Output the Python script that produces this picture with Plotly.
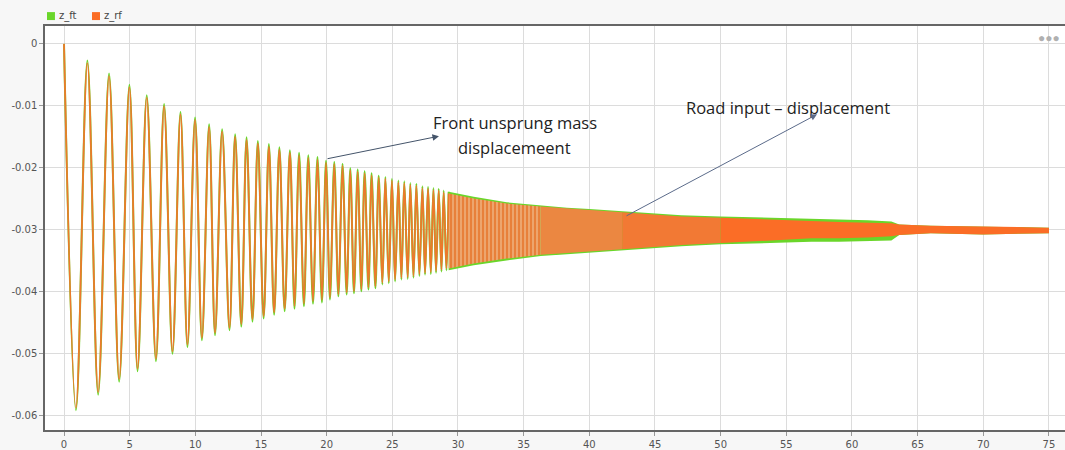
import plotly.graph_objects as go

# ---- data ----
# extrema (peaks / troughs) of the resolvable oscillation, t in s
ext_t = [0, 0.91, 1.78, 2.6, 3.43, 4.2, 4.98, 5.6, 6.3, 7.0,
         7.62, 8.26, 8.87, 9.4, 9.98, 10.5, 11.05, 11.5, 12.04, 12.6,
         13.03, 13.5, 13.9, 14.35, 14.76, 15.2, 15.6, 16.0, 16.4, 16.8,
         17.2, 17.55, 17.9, 18.27, 18.6, 18.96, 19.3, 19.64, 19.95, 20.25,
         20.58, 20.89, 21.21, 21.52, 21.8, 22.08, 22.36, 22.64, 22.89, 23.18,
         23.42, 23.71, 23.96, 24.24, 24.47, 24.73, 24.97, 25.21, 25.46, 25.69,
         25.91, 26.17, 26.37, 26.61, 26.83, 27.06, 27.29, 27.49, 27.72, 27.93,
         28.13, 28.33, 28.53, 28.74, 28.91, 29.12, 29.29]
z_ft_ext = [0, -0.0592, -0.0027, -0.0567, -0.0048, -0.0546, -0.0066, -0.0529, -0.0083, -0.0513,
            -0.0097, -0.0501, -0.0110, -0.0490, -0.0119, -0.0479, -0.0130, -0.0471, -0.0138, -0.0463,
            -0.0146, -0.0457, -0.0151, -0.0449, -0.0157, -0.0444, -0.0162, -0.0438, -0.0167, -0.0432,
            -0.0172, -0.0428, -0.0176, -0.0424, -0.0180, -0.0420, -0.0183, -0.0418, -0.0189, -0.0413,
            -0.0191, -0.0408, -0.0194, -0.0405, -0.0201, -0.0403, -0.0203, -0.0400, -0.0206, -0.0397,
            -0.0209, -0.0395, -0.0213, -0.0389, -0.0215, -0.0387, -0.0218, -0.0384, -0.0221, -0.0381,
            -0.0222, -0.0380, -0.0225, -0.0378, -0.0226, -0.0375, -0.0230, -0.0373, -0.0231, -0.0372,
            -0.0233, -0.0370, -0.0234, -0.0368, -0.0237, -0.0366, -0.0239]
z_rf_ext = [0, -0.0588, -0.0031, -0.0563, -0.0052, -0.0542, -0.0070, -0.0525, -0.0087, -0.0509,
            -0.0101, -0.0497, -0.0114, -0.0486, -0.0123, -0.0475, -0.0134, -0.0467, -0.0142, -0.0459,
            -0.0150, -0.0453, -0.0155, -0.0445, -0.0161, -0.0440, -0.0166, -0.0434, -0.0171, -0.0428,
            -0.0176, -0.0424, -0.0180, -0.0420, -0.0184, -0.0416, -0.0187, -0.0414, -0.0192, -0.0410,
            -0.0194, -0.0405, -0.0197, -0.0402, -0.0204, -0.0400, -0.0206, -0.0397, -0.0209, -0.0394,
            -0.0212, -0.0392, -0.0216, -0.0386, -0.0218, -0.0384, -0.0221, -0.0381, -0.0224, -0.0378,
            -0.0225, -0.0377, -0.0228, -0.0375, -0.0229, -0.0372, -0.0233, -0.0370, -0.0234, -0.0369,
            -0.0236, -0.0367, -0.0237, -0.0365, -0.0240, -0.0363, -0.0242]

# envelope of the dense (unresolvable) part of the oscillation
band_t = [29.29, 31.2, 33.7, 36.3, 38.3, 40.0, 42.5, 45.0, 47.0, 50.0,
          52.2, 54.5, 56.9, 59.0, 61.2, 63.0, 63.6, 66.0, 70.0, 75.0]
z_ft_upper = [-0.0239, -0.0247, -0.0256, -0.0261, -0.0265, -0.0267, -0.0271, -0.0275, -0.0277, -0.0279,
              -0.0280, -0.0281, -0.0282, -0.0283, -0.0285, -0.0287, -0.0292, -0.0294, -0.0295, -0.0297]
z_ft_lower = [-0.0366, -0.0358, -0.0350, -0.0343, -0.0339, -0.0337, -0.0333, -0.0330, -0.0327, -0.0324,
              -0.0322, -0.0321, -0.0320, -0.0320, -0.0319, -0.0318, -0.0309, -0.0306, -0.0308, -0.0306]
z_rf_upper = [-0.0242, -0.0250, -0.0258, -0.0263, -0.0266, -0.0268, -0.0272, -0.0276, -0.0279, -0.0281,
              -0.0283, -0.0285, -0.0287, -0.0288, -0.0289, -0.0290, -0.0292, -0.0294, -0.0295, -0.0297]
z_rf_lower = [-0.0363, -0.0355, -0.0347, -0.0341, -0.0338, -0.0336, -0.0332, -0.0328, -0.0325, -0.0322,
              -0.0319, -0.0317, -0.0314, -0.0314, -0.0313, -0.0311, -0.0309, -0.0306, -0.0308, -0.0306]

series_names = ["z_ft", "z_rf"]
x_ticks = [0, 5, 10, 15, 20, 25, 30, 35, 40, 45, 50, 55, 60, 65, 70, 75]
y_ticks = [0, -0.01, -0.02, -0.03, -0.04, -0.05, -0.06]
y_tick_text = ["0", "-0.01", "-0.02", "-0.03", "-0.04", "-0.05", "-0.06"]

assert len(ext_t) == len(z_ft_ext) == len(z_rf_ext)

GREEN = "#6ad62a"
ORANGE = "#fb6d26"

fig = go.Figure()


def band(t, up, lo, i0, i1, color, group, pattern=None):
    xs = t[i0:i1] + t[i0:i1][::-1]
    ys = up[i0:i1] + lo[i0:i1][::-1]
    kw = {}
    if pattern is not None:
        kw["fillpattern"] = pattern
    fig.add_trace(go.Scatter(x=xs, y=ys, fill="toself", fillcolor=color, mode="lines",
                             line=dict(width=0, color=color), hoverinfo="skip",
                             showlegend=False, legendgroup=group, **kw))


# z_ft (green) underneath
band(band_t, z_ft_upper, z_ft_lower, 0, len(band_t), GREEN, "ft")
fig.add_trace(go.Scatter(x=ext_t, y=z_ft_ext, mode="lines",
                         line=dict(color=GREEN, width=2.0, shape="spline", smoothing=1.0),
                         showlegend=False, legendgroup="ft", name=series_names[0]))
# z_rf (orange) on top
band(band_t, z_rf_upper, z_rf_lower, 0, 4, "#efb07c", "rf",
     pattern=dict(shape="|", fgcolor="#e8803a", bgcolor="#f0b583", size=4, solidity=0.65, fillmode="replace"))
band(band_t, z_rf_upper, z_rf_lower, 3, 7, "#eb8741", "rf")
band(band_t, z_rf_upper, z_rf_lower, 6, 10, "#f27934", "rf")
band(band_t, z_rf_upper, z_rf_lower, 9, len(band_t), ORANGE, "rf")
fig.add_trace(go.Scatter(x=ext_t, y=z_rf_ext, mode="lines",
                         line=dict(color="rgba(243,116,44,0.95)", width=1.8, shape="spline", smoothing=1.0),
                         showlegend=False, legendgroup="rf", name=series_names[1]))

# legend (square swatches + labels)
legend_font = dict(family="DejaVu Sans", size=10, color="#444444")
for name, col, x0 in [(series_names[0], GREEN, 0.00196), (series_names[1], ORANGE, 0.0461)]:
    fig.add_shape(type="rect", xref="paper", yref="paper", x0=x0, x1=x0 + 0.0078,
                  y0=1.0147, y1=1.0344, fillcolor=col, line=dict(width=0))
    fig.add_annotation(x=x0 + 0.0098, y=1.0246, xref="paper", yref="paper", xanchor="left",
                       yanchor="middle", text=name, showarrow=False, font=legend_font)

text_font = dict(family="Open Sans", size=16.5, color="#222222")
fig.add_annotation(x=34.34, y=-0.01267, text="Front unsprung mass", showarrow=False, font=text_font)
fig.add_annotation(x=34.34, y=-0.01669, text="displacemeent", showarrow=False, font=text_font)
fig.add_annotation(x=55.13, y=-0.01027, text="Road input \u2013 displacement", showarrow=False, font=text_font)

fig.add_annotation(x=28.55, y=-0.01492, ax=19.95, ay=-0.01861, axref="x", ayref="y", text="",
                   showarrow=True, arrowhead=2, arrowsize=1.3, arrowwidth=1, arrowcolor="#44546a")
fig.add_annotation(x=57.34, y=-0.01139, ax=42.72, ay=-0.02792, axref="x", ayref="y", text="",
                   showarrow=True, arrowhead=2, arrowsize=1.3, arrowwidth=1, arrowcolor="#5b6b8a")

fig.add_annotation(x=1.0, y=1.0, xref="paper", yref="paper", xanchor="right", yanchor="top",
                   text="\u25cf\u25cf\u25cf", showarrow=False, xshift=-3, yshift=-1,
                   font=dict(size=12, color="#b0b0b0"))

axis_font = dict(family="DejaVu Sans", size=10, color="#555555")
fig.update_layout(
    width=1065, height=450,
    margin=dict(l=45, r=0, t=26, b=17),
    paper_bgcolor="#f7f7f7", plot_bgcolor="#ffffff",
    showlegend=False,
    xaxis=dict(range=[-1.447, 76.22], tickvals=x_ticks, ticktext=[str(v) for v in x_ticks],
               showgrid=True, gridcolor="#dcdcdc", gridwidth=1, zeroline=False,
               showline=True, linecolor="#666666", linewidth=1.5, mirror=True,
               ticks="outside", ticklen=4, tickcolor="#999999", tickfont=axis_font),
    yaxis=dict(range=[-0.06241, 0.00289], tickvals=y_ticks, ticktext=y_tick_text,
               showgrid=True, gridcolor="#dcdcdc", gridwidth=1, zeroline=False,
               showline=True, linecolor="#666666", linewidth=1.5,
               ticks="outside", ticklen=4, tickcolor="#999999", tickfont=axis_font),
)

fig.write_html("out.html")
